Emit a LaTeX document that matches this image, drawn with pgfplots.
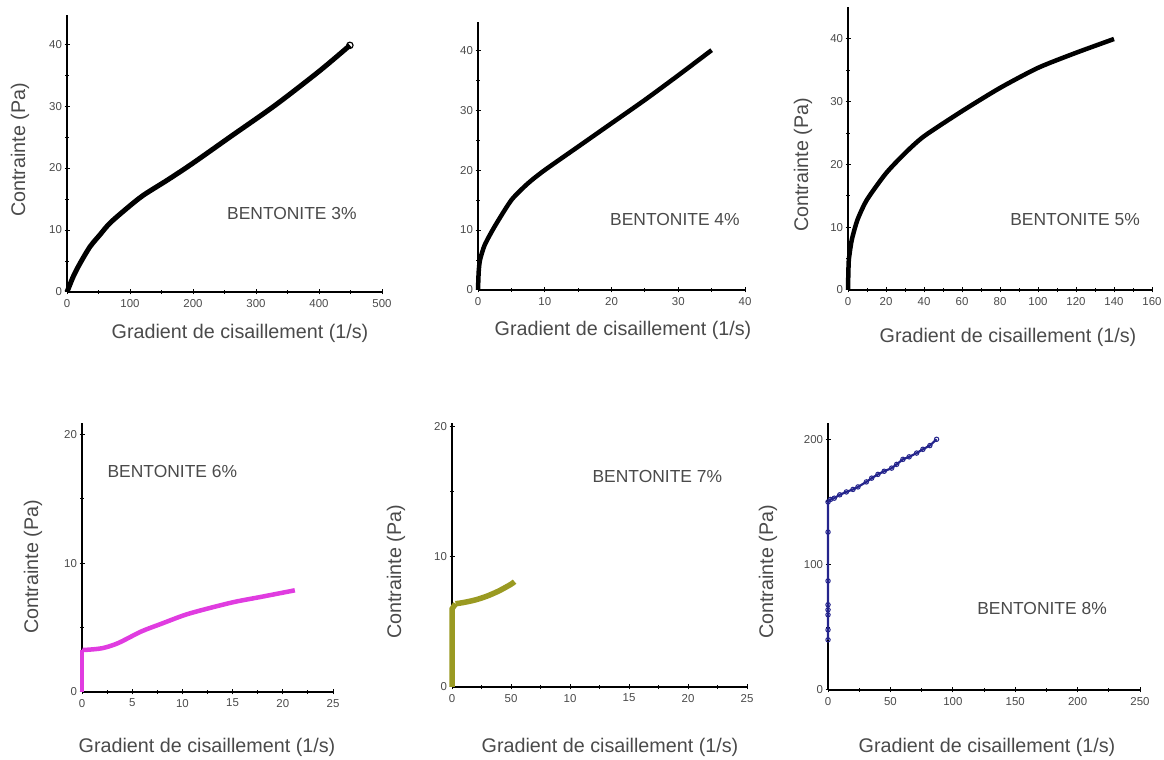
\documentclass[border=0pt]{standalone}
\usepackage{pgfplots}
\pgfplotsset{compat=1.18}
\usepackage{fontspec}
\setmainfont{Liberation Sans}
\definecolor{labgray}{HTML}{4A4A4A}
\definecolor{mag}{HTML}{E03CE0}
\definecolor{oliv}{HTML}{9A9A22}
\definecolor{navy}{HTML}{24248C}
\pgfplotsset{
  panel/.style={
    scale only axis, anchor=origin, clip=false,
    axis x line*=bottom, axis y line*=left,
    axis line style={-, line width=1.3bp, black},
    every outer x axis line/.append style={-},
    every outer y axis line/.append style={-},
    tick style={black, line width=1bp},
    tick align=center, major tick length=5bp, minor tick length=3.5bp,
    minor x tick num=1, minor y tick num=1,
    xmin=0, ymin=0,
    /pgf/number format/assume math mode=true,
    tick label style={font=\fontsize{11.5}{12}\selectfont, text=labgray},
    xticklabel style={yshift=-1bp},
    yticklabel style={xshift=1bp},
  },
}
\tikzset{
  lab/.style={font=\fontsize{19.8}{22}\selectfont, text=labgray},
  ann/.style={font=\fontsize{17.5}{20}\selectfont, text=labgray},
}
\begin{document}
\begin{tikzpicture}[x=1bp,y=1bp]
\useasboundingbox (0,0) rectangle (1164,760);
% Panel 1: 3%
\begin{axis}[panel, at={(67bp,468bp)}, width=315bp, height=277bp,
  xmax=500, ymax=44.7, xtick={0,100,...,500}, ytick={0,10,...,40}]
\addplot[black, line width=5bp, smooth, tension=0.5] coordinates {
(0,0) (10,2.5) (20.6,4.6) (36.5,7.3) (52,9.2) (68,11.1) (95,13.5)
(121,15.6) (160,18.1) (200,20.8) (260,25.1) (330,30.1) (400,35.6) (449,39.8)};
\addplot[black, only marks, mark=o, mark size=3.2bp, mark options={line width=1.2bp}]
  coordinates {(449,39.8)};
\node[ann] at (axis cs:357,12.7) {BENTONITE 3\%};
\end{axis}
% Panel 2: 4%
\begin{axis}[panel, at={(478bp,470bp)}, width=267bp, height=268bp,
  xmax=40, ymax=44.7, xtick={0,10,...,40}, ytick={0,10,...,40}]
\addplot[black, line width=4.5bp, smooth, tension=0.4] coordinates {
(0,0) (0.1,3) (0.3,5) (1,7.5) (2.5,10.6) (5,15) (7.5,17.8) (10,20)
(15,23.9) (20,27.8) (25,31.7) (30,35.8) (35,40)};
\node[ann] at (axis cs:29.5,11.7) {BENTONITE 4\%};
\end{axis}
% Panel 3: 5%
\begin{axis}[panel, at={(848bp,470bp)}, width=304bp, height=283bp,
  xmax=160, ymax=45.1, xtick={0,20,...,160}, ytick={0,10,...,40}]
\addplot[black, line width=4.5bp, smooth, tension=0.4] coordinates {
(0,0) (0.2,3) (0.5,5) (2,8) (5,11.2) (10,14.4) (20,18.6) (30,21.8)
(40,24.5) (60,28.5) (80,32.2) (100,35.4) (120,37.8) (140,40)};
\node[ann] at (axis cs:119.5,11.2) {BENTONITE 5\%};
\end{axis}
% Panel 4: 6%
\begin{axis}[panel, at={(82bp,68bp)}, width=251bp, height=269bp,
  xmax=25, ymax=20.9, xtick={0,5,...,25}, ytick={0,10,20}]
\addplot[mag, line width=4.5bp] coordinates {(0,0) (0,1.5) (0,3.3)};
\addplot[mag, line width=4.5bp, smooth, tension=0.5] coordinates {
(0,3.3) (0.3,3.27) (2,3.4) (3.6,3.8) (5.9,4.7) (7.9,5.3) (10.3,6.0)
(12.6,6.5) (15.2,7.0) (17.9,7.4) (21.2,7.9)};
\node[ann] at (axis cs:9.0,17.1) {BENTONITE 6\%};
\end{axis}
% Panel 5: 7%
\begin{axis}[panel, at={(452bp,73bp)}, width=295bp, height=264bp,
  xmax=25, ymax=20.3, xtick={0,5,...,25}, xticklabels={0,50,10,15,20,25},
  ytick={0,10,20}]
\addplot[oliv, line width=5.5bp] coordinates {
(0,0) (0,1) (0,2) (0,3) (0,4) (0,5) (0,6) (0.3,6.4)};
\addplot[oliv, line width=5.5bp, smooth] coordinates {
(0.3,6.4) (1,6.5) (2,6.7) (3,7.0) (4,7.4) (5,7.9) (5.3,8.1)};
\node[ann] at (axis cs:17.4,16.2) {BENTONITE 7\%};
\end{axis}
% Panel 6: 8%
\begin{axis}[panel, at={(828bp,70bp)}, width=312bp, height=267bp,
  xmax=250, ymax=213, xtick={0,50,...,250}, ytick={0,100,200}]
\addplot[navy, line width=2.2bp, mark=o, mark size=2.2bp,
  mark options={line width=1bp}] coordinates {
(0,40) (0,48) (0,60) (0,64) (0,68) (0,87) (0,126) (0,150) (2,152) (5,153)
(9.4,155.7) (14.7,158) (20,160) (24,162) (30.7,166) (35,169) (40,172) (45,174.5)
(51,177) (55,180) (60,184) (65,186) (71,189) (76,192) (81.6,195) (87,200)};
\node[ann] at (axis cs:171.5,64.8) {BENTONITE 8\%};
\end{axis}
% axis titles
\node[lab] at (240,427) {Gradient de cisaillement (1/s)};
\node[lab] at (623,430) {Gradient de cisaillement (1/s)};
\node[lab] at (1008,423) {Gradient de cisaillement (1/s)};
\node[lab] at (207,13) {Gradient de cisaillement (1/s)};
\node[lab] at (610,13) {Gradient de cisaillement (1/s)};
\node[lab] at (987,13) {Gradient de cisaillement (1/s)};
\node[lab, rotate=90] at (20,610) {Contrainte (Pa)};
\node[lab, rotate=90] at (803,595) {Contrainte (Pa)};
\node[lab, rotate=90] at (33,193) {Contrainte (Pa)};
\node[lab, rotate=90] at (396,188) {Contrainte (Pa)};
\node[lab, rotate=90] at (768,188) {Contrainte (Pa)};
\end{tikzpicture}
\end{document}
